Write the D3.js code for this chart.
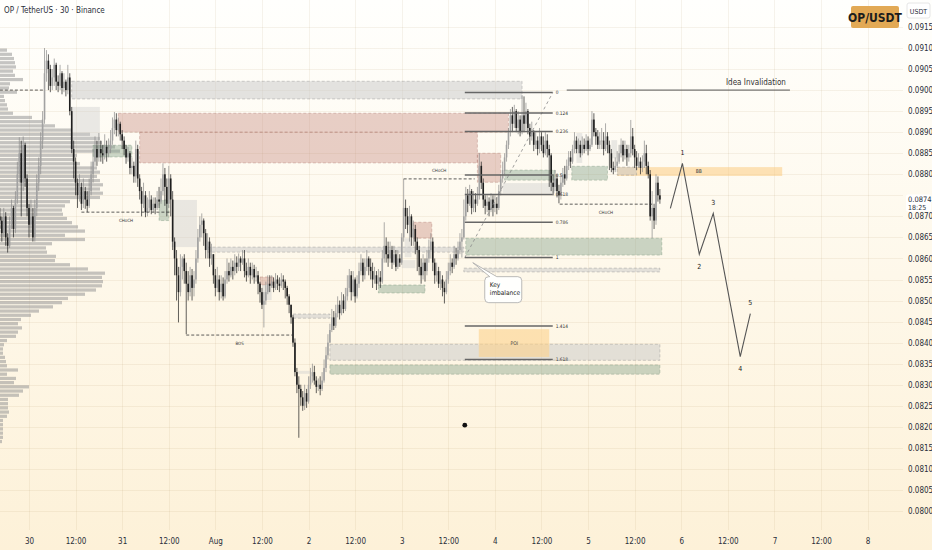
<!DOCTYPE html>
<html>
<head>
<meta charset="utf-8">
<script src="https://cdn.jsdelivr.net/npm/d3@7.9.0/dist/d3.min.js"></script>
<style>
  html, body { margin: 0; padding: 0; background: #fffefb; }
  svg { display: block; }
  text { font-family: "Liberation Sans Narrow", "DejaVu Sans Condensed", "Liberation Sans", sans-serif; }
</style>
</head>
<body>
<div id="chart"></div>
<script>
// OP / TetherUS 30m bars, prices kept in 1e-5 units (8740 = 0.08740)
const t0 = Date.UTC(2024, 6, 29, 16, 30);
const HALF = 30 * 60 * 1000;
const firstOpen = 8700;

const closes = [
  8690, 8660, 8700, 8650, 8630, 8680, 8720, 8670, 8740, 8800,
  8850, 8780, 8870, 8790, 8720, 8680, 8700, 8650, 8720, 8780,
  8820, 8880, 8930, 9040, 9070, 9050, 9010, 9030, 9060, 9020,
  9010, 9040, 9005, 9020, 9000, 9030, 8950, 8860, 8830, 8780,
  8750, 8770, 8730, 8760, 8740, 8725, 8760, 8800, 8830, 8860,
  8840, 8860, 8850, 8845, 8865, 8850, 8860, 8880, 8910, 8930,
  8905, 8920, 8895, 8880, 8860, 8840, 8850, 8815, 8820, 8795,
  8860, 8790, 8760, 8730, 8750, 8710, 8720, 8740, 8715, 8730,
  8720, 8740, 8735, 8760, 8800, 8770, 8730, 8790, 8740, 8640,
  8600, 8560, 8520, 8580, 8600, 8570, 8540, 8520, 8560, 8530,
  8550, 8600, 8650, 8680, 8690, 8660, 8620, 8640, 8600, 8610,
  8560, 8530, 8550, 8520, 8540, 8510, 8550, 8570, 8560, 8580,
  8570, 8590, 8580, 8600, 8590, 8600, 8570, 8560, 8580, 8560,
  8575, 8555, 8560, 8540, 8520, 8490, 8500, 8520, 8540, 8535,
  8545, 8530, 8550, 8540, 8535, 8550, 8545, 8530, 8510, 8490,
  8460, 8400, 8330, 8300, 8290, 8270, 8250, 8280, 8260, 8300,
  8320, 8330, 8310, 8295, 8300, 8290, 8310, 8340, 8370, 8400,
  8430, 8460, 8440, 8470, 8490, 8470, 8500, 8480, 8510, 8530,
  8560, 8520, 8550, 8510, 8540, 8570, 8590, 8560, 8580, 8600,
  8580, 8570, 8550, 8560, 8540, 8555, 8545, 8600, 8630, 8610,
  8600, 8620, 8590, 8610, 8580, 8600, 8590, 8650, 8720, 8700,
  8680, 8700, 8650, 8670, 8640, 8620, 8580, 8560, 8590, 8570,
  8600, 8620, 8640, 8590, 8560, 8570, 8540, 8550, 8530, 8520,
  8550, 8570, 8590, 8580, 8610, 8600, 8620, 8640, 8650, 8700,
  8750, 8730, 8760, 8720, 8740, 8730, 8750, 8820, 8780, 8740,
  8725, 8735, 8715, 8740, 8720, 8730, 8720, 8760, 8790, 8810,
  8840, 8870, 8900, 8940, 8920, 8950, 8910, 8930, 8900, 8940,
  8920, 8950, 8910, 8890, 8900, 8870, 8880, 8860, 8890, 8870,
  8850, 8880, 8860, 8845, 8780, 8770, 8790, 8760, 8750, 8780,
  8800, 8790, 8820, 8840, 8830, 8860, 8880, 8860, 8870, 8850,
  8870, 8860, 8880, 8860, 8870, 8930, 8900, 8890, 8870, 8880,
  8880, 8860, 8890, 8870, 8850, 8815, 8810, 8820, 8830, 8850,
  8870, 8845, 8860, 8840, 8850, 8890, 8860, 8840, 8820, 8830,
  8815, 8830, 8850, 8820, 8800, 8700, 8720, 8690, 8780, 8750, 8740
];
const highs = [
  8720, 8700, 8720, 8710, 8660, 8700, 8740, 8725, 8760, 8830,
  8888, 8880, 8890, 8875, 8800, 8730, 8740, 8720, 8740, 8800,
  8840, 8900, 8950, 9100, 9095, 9085, 9060, 9050, 9075, 9065,
  9035, 9060, 9045, 9040, 9025, 9060, 9040, 8960, 8880, 8840,
  8790, 8800, 8780, 8790, 8770, 8760, 8790, 8830, 8860, 8890,
  8880, 8898, 8880, 8870, 8895, 8880, 8885, 8905, 8935, 8948,
  8945, 8935, 8925, 8905, 8890, 8870, 8865, 8855, 8840, 8830,
  8880, 8870, 8800, 8770, 8780, 8760, 8745, 8760, 8750, 8745,
  8745, 8760, 8770, 8790, 8826, 8815, 8790, 8820, 8800, 8760,
  8650, 8620, 8580, 8610, 8605, 8610, 8590, 8570, 8580, 8575,
  8570, 8620, 8670, 8700, 8707, 8695, 8670, 8660, 8650, 8635,
  8600, 8575, 8580, 8560, 8560, 8555, 8570, 8600, 8590, 8600,
  8595, 8610, 8605, 8612, 8605, 8620, 8620, 8590, 8600, 8590,
  8590, 8585, 8580, 8570, 8545, 8530, 8520, 8545, 8560, 8560,
  8560, 8555, 8565, 8560, 8555, 8565, 8560, 8550, 8535, 8515,
  8490, 8465, 8410, 8340, 8320, 8300, 8285, 8300, 8290, 8320,
  8340, 8350, 8345, 8320, 8315, 8320, 8330, 8360, 8390, 8420,
  8445, 8480, 8475, 8490, 8510, 8500, 8520, 8515, 8530, 8560,
  8575, 8570, 8570, 8555, 8560, 8590, 8610, 8600, 8600, 8620,
  8605, 8600, 8590, 8580, 8570, 8575, 8570, 8620, 8686, 8650,
  8640, 8640, 8630, 8630, 8620, 8620, 8610, 8660, 8789, 8740,
  8720, 8725, 8705, 8690, 8680, 8650, 8630, 8600, 8610, 8600,
  8620, 8645, 8660, 8650, 8600, 8590, 8580, 8570, 8560, 8545,
  8570, 8590, 8610, 8600, 8630, 8625, 8640, 8660, 8670, 8740,
  8770, 8765, 8775, 8765, 8760, 8755, 8770, 8850, 8830, 8790,
  8750, 8750, 8745, 8755, 8750, 8750, 8745, 8775, 8800, 8830,
  8850, 8880, 8910, 8955, 8960, 8965, 8955, 8950, 8940, 8988,
  8985, 8970, 8955, 8920, 8925, 8905, 8900, 8890, 8910, 8900,
  8890, 8900, 8895, 8870, 8850, 8800, 8810, 8800, 8775, 8800,
  8815, 8820, 8835, 8855, 8855, 8870, 8900, 8890, 8885, 8880,
  8890, 8885, 8895, 8890, 8885, 8950, 8945, 8910, 8905, 8900,
  8910, 8900, 8921, 8900, 8880, 8860, 8830, 8840, 8855, 8870,
  8885, 8880, 8880, 8870, 8870, 8929, 8910, 8870, 8855, 8850,
  8840, 8845, 8880, 8870, 8830, 8810, 8760, 8730, 8800, 8795, 8765
];
const lows = [
  8670, 8640, 8650, 8630, 8614, 8625, 8670, 8650, 8660, 8730,
  8780, 8700, 8760, 8770, 8700, 8650, 8660, 8640, 8640, 8700,
  8760, 8800, 8860, 8920, 9020, 9000, 8995, 9000, 9010, 9000,
  8995, 9000, 8990, 8995, 8985, 8990, 8940, 8850, 8790, 8750,
  8720, 8735, 8715, 8720, 8718, 8710, 8720, 8750, 8780, 8820,
  8820, 8830, 8830, 8825, 8835, 8830, 8840, 8850, 8870, 8895,
  8890, 8890, 8880, 8860, 8845, 8825, 8830, 8800, 8800, 8780,
  8780, 8770, 8740, 8700, 8720, 8698, 8700, 8710, 8705, 8710,
  8705, 8715, 8720, 8730, 8750, 8725, 8700, 8720, 8700, 8620,
  8560, 8500, 8448, 8510, 8550, 8540, 8420, 8500, 8510, 8500,
  8510, 8540, 8590, 8640, 8650, 8630, 8600, 8600, 8580, 8585,
  8540, 8510, 8520, 8500, 8505, 8500, 8505, 8540, 8545, 8555,
  8550, 8560, 8565, 8570, 8570, 8585, 8555, 8545, 8555, 8540,
  8550, 8540, 8545, 8515, 8495, 8480, 8436, 8490, 8515, 8520,
  8530, 8520, 8525, 8525, 8520, 8530, 8525, 8505, 8490, 8470,
  8445, 8390, 8320, 8280, 8174, 8250, 8238, 8240, 8245, 8255,
  8290, 8305, 8300, 8280, 8285, 8275, 8285, 8305, 8330, 8360,
  8400, 8425, 8430, 8435, 8460, 8455, 8465, 8470, 8475, 8500,
  8520, 8500, 8510, 8495, 8505, 8530, 8560, 8545, 8550, 8570,
  8560, 8550, 8530, 8540, 8525, 8535, 8530, 8540, 8590, 8590,
  8580, 8590, 8575, 8585, 8570, 8575, 8580, 8585, 8640, 8670,
  8660, 8640, 8630, 8630, 8610, 8570, 8560, 8540, 8550, 8545,
  8560, 8590, 8600, 8570, 8540, 8545, 8530, 8525, 8510, 8493,
  8515, 8540, 8560, 8565, 8575, 8585, 8595, 8610, 8602, 8645,
  8690, 8710, 8725, 8705, 8710, 8710, 8725, 8740, 8765, 8720,
  8705, 8710, 8700, 8710, 8700, 8710, 8705, 8715, 8750, 8780,
  8800, 8830, 8860, 8890, 8900, 8910, 8900, 8895, 8890, 8895,
  8900, 8905, 8895, 8870, 8880, 8855, 8860, 8845, 8850, 8855,
  8840, 8845, 8840, 8770, 8760, 8750, 8760, 8745, 8731, 8740,
  8770, 8775, 8785, 8810, 8815, 8825, 8850, 8850, 8850, 8840,
  8845, 8850, 8855, 8845, 8855, 8865, 8890, 8870, 8860, 8860,
  8860, 8845, 8855, 8850, 8810, 8805, 8800, 8805, 8815, 8825,
  8840, 8830, 8835, 8820, 8830, 8840, 8845, 8815, 8810, 8815,
  8800, 8805, 8815, 8800, 8790, 8690, 8648, 8670, 8680, 8735, 8730
];

// volume profile, one row per 0.0001 going down from 0.0910
const profileTop = 9100;
const profileVol = [
  7, 12, 14, 15, 16, 13, 15, 23, 10, 9,
  17, 4, 5, 7, 8, 13, 32, 43, 55, 72,
  90, 100, 102, 115, 120, 77, 73, 80, 97, 100,
  97, 100, 103, 100, 103, 100, 70, 65, 62, 63,
  67, 72, 78, 85, 65, 85, 52, 46, 47, 56,
  55, 70, 88, 105, 102, 103, 102, 96, 85, 68,
  62, 53, 39, 31, 21, 18, 22, 18, 16, 7,
  4, 3, 3, 5, 6, 7, 18, 7, 16, 14,
  29, 23, 19, 8, 8, 8, 9, 7, 3, 3,
  3, 3, 3, 2
];

const timeTickLabels = ['30', '12:00', '31', '12:00', 'Aug', '12:00', '2', '12:00', '3', '12:00',
  '4', '12:00', '5', '12:00', '6', '12:00', '7', '12:00', '8'];
const priceTicks = d3.range(8000, 9151, 50);

// drawn zones: [fromBar, toBar, top, bottom, kind]
const zones = [
  [37, 269, 9021, 8979, 'gray'],
  [37, 51.5, 8960, 8881, 'light'],
  [61, 262, 8945, 8900, 'pink'],
  [72, 246, 8900, 8827, 'pink'],
  [246, 258, 8850, 8781, 'pink'],
  [48, 68, 8869, 8841, 'green'],
  [82, 87, 8739, 8690, 'green'],
  [88.5, 101.5, 8739, 8627, 'light'],
  [107, 239, 8627, 8615, 'gray'],
  [134, 141, 8556, 8537, 'pink'],
  [135, 140, 8537, 8501, 'light'],
  [151, 170, 8468, 8458, 'gray'],
  [153.5, 160, 8333, 8326, 'light'],
  [170, 340, 8396, 8358, 'gray'],
  [170, 340, 8347, 8325, 'green'],
  [195, 219, 8537, 8518, 'green'],
  [208.5, 212, 8648, 8603, 'light'],
  [207, 214, 8596, 8577, 'light'],
  [213, 222.5, 8686, 8648, 'pink'],
  [239, 340, 8577, 8568, 'gray'],
  [240, 341, 8648, 8608, 'green'],
  [260, 286, 8810, 8786, 'green'],
  [259, 286, 8779, 8755, 'light'],
  [294.6, 313, 8819, 8786, 'green'],
  [297, 300, 8898, 8827, 'light'],
  [315, 318, 8881, 8838, 'light'],
  [318, 403, 8817, 8796, 'orange'],
  [318, 328, 8817, 8798, 'gray'],
  [246.7, 283, 8432, 8366, 'poi']
];
const zoneNames = [[360, 8806, 'BB'], [265, 8399, 'POI']];

// structure breaks: [fromBar, toBar, price, label, side]
const structure = [
  [0, 23, 9000, '', 0],
  [42, 88, 8710, 'CHoCH', 1],
  [96, 151, 8418, 'BOS', 1],
  [208, 244.6, 8789, 'CHoCH', -1],
  [288.4, 336, 8729, 'CHoCH', 1]
];

const fibLevels = [0, 0.124, 0.236, 0.5, 0.618, 0.786, 1, 1.414, 1.618];
const fibFrom = [239.5, 8602];
const fibTo = [284.8, 8994];
const invalidation = [292, 407, 9000, 'Idea Invalidation'];
const wave = [[345.4, 8719], [351.6, 8826], [360.3, 8610], [367.5, 8707], [381.4, 8367], [386.6, 8469]];
const waveLabels = ['', '1', '2', '3', '4', '5'];
const keyImbalance = [243.6, 8590, 'Key', 'imbalance'];
const marker = [239.5, 8204];
const countdown = '18:25';

const W = 932, H = 550;
const plotR = 903, plotB = 530;

const x = d3.scaleUtc()
  .domain([new Date(Date.UTC(2024, 6, 30)), new Date(Date.UTC(2024, 7, 8))])
  .range([29, 867.6]);
const y = d3.scaleLinear().domain([8000, 9100]).range([511, 48]);
const bx = (i) => x(new Date(t0 + i * HALF));
const fmt = (v) => (v / 1e5).toFixed(4);

const bars = closes.map((c, i) => ({
  i, c, o: i ? closes[i - 1] : firstOpen, h: highs[i], l: lows[i]
}));
const lastPrice = closes[closes.length - 1];

const svg = d3.select('#chart').append('svg').attr('width', W).attr('height', H);
const defs = svg.append('defs');
const bg = defs.append('linearGradient').attr('id', 'bg').attr('x1', 0).attr('y1', 0).attr('x2', 0).attr('y2', 1);
bg.append('stop').attr('offset', '0%').attr('stop-color', '#fffffd');
bg.append('stop').attr('offset', '50%').attr('stop-color', '#fef8ea');
bg.append('stop').attr('offset', '100%').attr('stop-color', '#fdf1d8');
defs.append('clipPath').attr('id', 'plot').append('rect').attr('width', plotR).attr('height', plotB);

svg.append('rect').attr('width', W).attr('height', H).attr('fill', 'url(#bg)');

/* GRID */
const grid = svg.append('g').attr('stroke', 'rgba(150,120,70,0.09)').attr('stroke-width', 1);
grid.selectAll('line.h').data(priceTicks).join('line')
  .attr('x1', 0).attr('x2', plotR)
  .attr('y1', (d) => Math.round(y(d)) + 0.5).attr('y2', (d) => Math.round(y(d)) + 0.5);
const timeTicks = timeTickLabels.map((_, k) => new Date(Date.UTC(2024, 6, 30) + k * 12 * 3600 * 1000));
grid.selectAll('line.v').data(timeTicks).join('line')
  .attr('y1', 0).attr('y2', plotB)
  .attr('x1', (d) => Math.round(x(d)) + 0.5).attr('x2', (d) => Math.round(x(d)) + 0.5);

const plot = svg.append('g').attr('clip-path', 'url(#plot)');

/* VOLUME PROFILE */
const xp = d3.scaleLinear().domain([0, d3.max(profileVol)]).range([0, 120]);
plot.append('g').selectAll('rect').data(profileVol).join('rect')
  .attr('x', 0)
  .attr('y', (d, k) => y(profileTop - k * 10) + 0.5)
  .attr('height', (d, k) => y(profileTop - (k + 1) * 10) - y(profileTop - k * 10) - 1)
  .attr('width', (d) => xp(d))
  .attr('fill', 'rgba(150,150,150,0.55)');

/* ZONES */
const zoneStyle = {
  gray: ['rgba(200,200,200,0.5)', 'rgba(140,140,140,0.55)'],
  light: ['rgba(205,205,205,0.42)', 'none'],
  pink: ['rgba(190,125,115,0.36)', 'rgba(160,100,90,0.45)'],
  green: ['rgba(130,160,135,0.42)', 'rgba(110,140,115,0.5)'],
  orange: ['rgba(252,200,120,0.5)', 'none'],
  poi: ['rgba(252,210,140,0.6)', 'none']
};
plot.append('g').selectAll('rect').data(zones).join('rect')
  .attr('x', (d) => bx(d[0]))
  .attr('width', (d) => bx(d[1]) - bx(d[0]))
  .attr('y', (d) => y(d[2]))
  .attr('height', (d) => y(d[3]) - y(d[2]))
  .attr('fill', (d) => zoneStyle[d[4]][0])
  .attr('stroke', (d) => zoneStyle[d[4]][1])
  .attr('stroke-width', 0.7)
  .attr('stroke-dasharray', '3,2');
plot.append('g').selectAll('text').data(zoneNames).join('text')
  .attr('x', (d) => bx(d[0])).attr('y', (d) => y(d[1]))
  .attr('text-anchor', 'middle').attr('dy', '0.35em')
  .attr('font-size', 5).attr('fill', '#444')
  .text((d) => d[2]);

/* CANDLES */
const cg = plot.append('g');
const upCol = '#a2a2a2', upWick = '#8a8a8a', dnCol = '#1e1e1e';
cg.selectAll('line').data(bars).join('line')
  .attr('x1', (d) => bx(d.i)).attr('x2', (d) => bx(d.i))
  .attr('y1', (d) => y(Math.max(d.h, d.o, d.c)))
  .attr('y2', (d) => y(Math.min(d.l, d.o, d.c)))
  .attr('stroke', (d) => (d.c >= d.o ? upWick : dnCol))
  .attr('stroke-width', 0.7);
cg.selectAll('rect').data(bars).join('rect')
  .attr('x', (d) => bx(d.i) - 0.8)
  .attr('width', 1.6)
  .attr('y', (d) => y(Math.max(d.o, d.c)))
  .attr('height', (d) => Math.max(0.8, Math.abs(y(d.o) - y(d.c))))
  .attr('fill', (d) => (d.c >= d.o ? upCol : dnCol));

/* STRUCTURE LINES */
const sg = plot.append('g');
sg.selectAll('line').data(structure).join('line')
  .attr('x1', (d) => bx(d[0])).attr('x2', (d) => bx(d[1]))
  .attr('y1', (d) => y(d[2])).attr('y2', (d) => y(d[2]))
  .attr('stroke', '#333').attr('stroke-width', 0.8).attr('stroke-dasharray', '3,2');
sg.selectAll('text').data(structure.filter((d) => d[3])).join('text')
  .attr('x', (d) => (bx(d[0]) + bx(d[1])) / 2)
  .attr('y', (d) => y(d[2]) + d[4] * 8)
  .attr('dy', '0.35em').attr('text-anchor', 'middle')
  .attr('font-size', 4.5).attr('fill', '#333')
  .text((d) => d[3]);

/* FIB */
const fg = plot.append('g');
const fibPrice = (l) => fibTo[1] - l * (fibTo[1] - fibFrom[1]);
fg.append('line')
  .attr('x1', bx(fibFrom[0])).attr('y1', y(fibFrom[1]))
  .attr('x2', bx(fibTo[0])).attr('y2', y(fibTo[1]))
  .attr('stroke', '#8a8a8a').attr('stroke-width', 0.8).attr('stroke-dasharray', '3,3');
fg.selectAll('line.lv').data(fibLevels).join('line')
  .attr('x1', bx(fibFrom[0])).attr('x2', bx(fibTo[0]))
  .attr('y1', (d) => y(fibPrice(d))).attr('y2', (d) => y(fibPrice(d)))
  .attr('stroke', '#666').attr('stroke-width', 1.5);
fg.selectAll('text').data(fibLevels).join('text')
  .attr('x', bx(fibTo[0]) + 3).attr('y', (d) => y(fibPrice(d)))
  .attr('dy', '0.35em').attr('font-size', 4.8).attr('fill', '#333')
  .text((d) => String(d));

/* INVALIDATION */
plot.append('line')
  .attr('x1', bx(invalidation[0])).attr('x2', bx(invalidation[1]))
  .attr('y1', y(invalidation[2])).attr('y2', y(invalidation[2]))
  .attr('stroke', '#555').attr('stroke-width', 1);
plot.append('text')
  .attr('x', bx(invalidation[1]) - 4).attr('y', y(invalidation[2]) - 5)
  .attr('text-anchor', 'end').attr('font-size', 8).attr('fill', '#333')
  .text(invalidation[3]);

/* WAVE PROJECTION */
plot.append('path')
  .datum(wave)
  .attr('d', d3.line().x((d) => bx(d[0])).y((d) => y(d[1])))
  .attr('fill', 'none').attr('stroke', '#555').attr('stroke-width', 1.1);
plot.append('g').selectAll('text').data(wave.slice(1)).join('text')
  .attr('x', (d) => bx(d[0]))
  .attr('y', (d, k) => y(d[1]) + (k % 2 === 0 ? -11 : 12))
  .attr('dy', '0.35em').attr('text-anchor', 'middle')
  .attr('font-size', 7).attr('fill', '#222')
  .text((d, k) => waveLabels[k + 1]);

/* KEY IMBALANCE CALLOUT */
const ax = bx(keyImbalance[0]), ay = y(keyImbalance[1]);
const rx = ax + 12, ry = ay + 14, rw = 37, rh = 26, r = 4;
plot.append('path')
  .attr('d', `M${rx + r},${ry} L${rx + 5},${ry} L${ax},${ay} L${rx + 12},${ry} L${rx + rw - r},${ry}
    Q${rx + rw},${ry} ${rx + rw},${ry + r} L${rx + rw},${ry + rh - r} Q${rx + rw},${ry + rh} ${rx + rw - r},${ry + rh}
    L${rx + r},${ry + rh} Q${rx},${ry + rh} ${rx},${ry + rh - r} L${rx},${ry + r} Q${rx},${ry} ${rx + r},${ry} Z`)
  .attr('fill', '#fffffd').attr('stroke', '#a8a8a8').attr('stroke-width', 0.8);
plot.append('text').attr('x', rx + 5).attr('y', ry + 10).attr('font-size', 6.5).attr('fill', '#222').text(keyImbalance[2]);
plot.append('text').attr('x', rx + 5).attr('y', ry + 18).attr('font-size', 6.5).attr('fill', '#222').text(keyImbalance[3]);

plot.append('circle').attr('cx', bx(marker[0])).attr('cy', y(marker[1])).attr('r', 2.4).attr('fill', '#111');

/* AXES */
const xAxis = svg.append('g').attr('transform', `translate(0,${plotB})`)
  .call(d3.axisBottom(x).tickValues(timeTicks).tickSize(0).tickPadding(8)
    .tickFormat((d, k) => timeTickLabels[k]));
xAxis.select('.domain').remove();
xAxis.selectAll('text').attr('font-size', 8).attr('fill', '#2a2e39')
  .attr('font-family', '"Liberation Sans Narrow", "DejaVu Sans Condensed", sans-serif');

// the tick hidden by the last-price tag is left out
const shownPriceTicks = priceTicks.filter((d) => Math.abs(y(d) - y(lastPrice)) > 6);
const yAxis = svg.append('g').attr('transform', `translate(${plotR},0)`)
  .call(d3.axisRight(y).tickValues(shownPriceTicks).tickSize(0).tickPadding(5).tickFormat(fmt));
yAxis.select('.domain').remove();
yAxis.selectAll('text').attr('font-size', 8).attr('fill', '#2a2e39')
  .attr('font-family', '"Liberation Sans Narrow", "DejaVu Sans Condensed", sans-serif');

/* LAST PRICE */
const lp = svg.append('g').attr('transform', `translate(906,${y(lastPrice) - 5})`);
lp.append('rect').attr('width', 25).attr('height', 17).attr('rx', 2).attr('fill', '#ffffff');
lp.append('text').attr('x', 2).attr('y', 7.5).attr('font-size', 7.5).attr('fill', '#2a2e39').text(fmt(lastPrice));
lp.append('text').attr('x', 2).attr('y', 15).attr('font-size', 7).attr('fill', '#2a2e39').text(countdown);

/* TITLE, BADGES */
svg.append('text').attr('x', 4).attr('y', 13).attr('font-size', 8).attr('fill', '#2a2e39')
  .text('OP / TetherUS · 30 · Binance');
svg.append('rect').attr('x', 907).attr('y', 3).attr('width', 23).attr('height', 15).attr('rx', 2)
  .attr('fill', '#ffffff').attr('stroke', '#e6e6e6');
svg.append('text').attr('x', 918.5).attr('y', 13.5).attr('text-anchor', 'middle')
  .attr('font-size', 7).attr('fill', '#2a2e39').text('USDT');
svg.append('rect').attr('x', 851).attr('y', 6).attr('width', 48).attr('height', 22).attr('rx', 2).attr('fill', '#e2a955');
svg.append('text').attr('x', 875).attr('y', 21.5).attr('text-anchor', 'middle')
  .attr('font-size', 12).attr('font-weight', 'bold').attr('fill', '#1c1c1c').text('OP/USDT');
</script>
</body>
</html>
